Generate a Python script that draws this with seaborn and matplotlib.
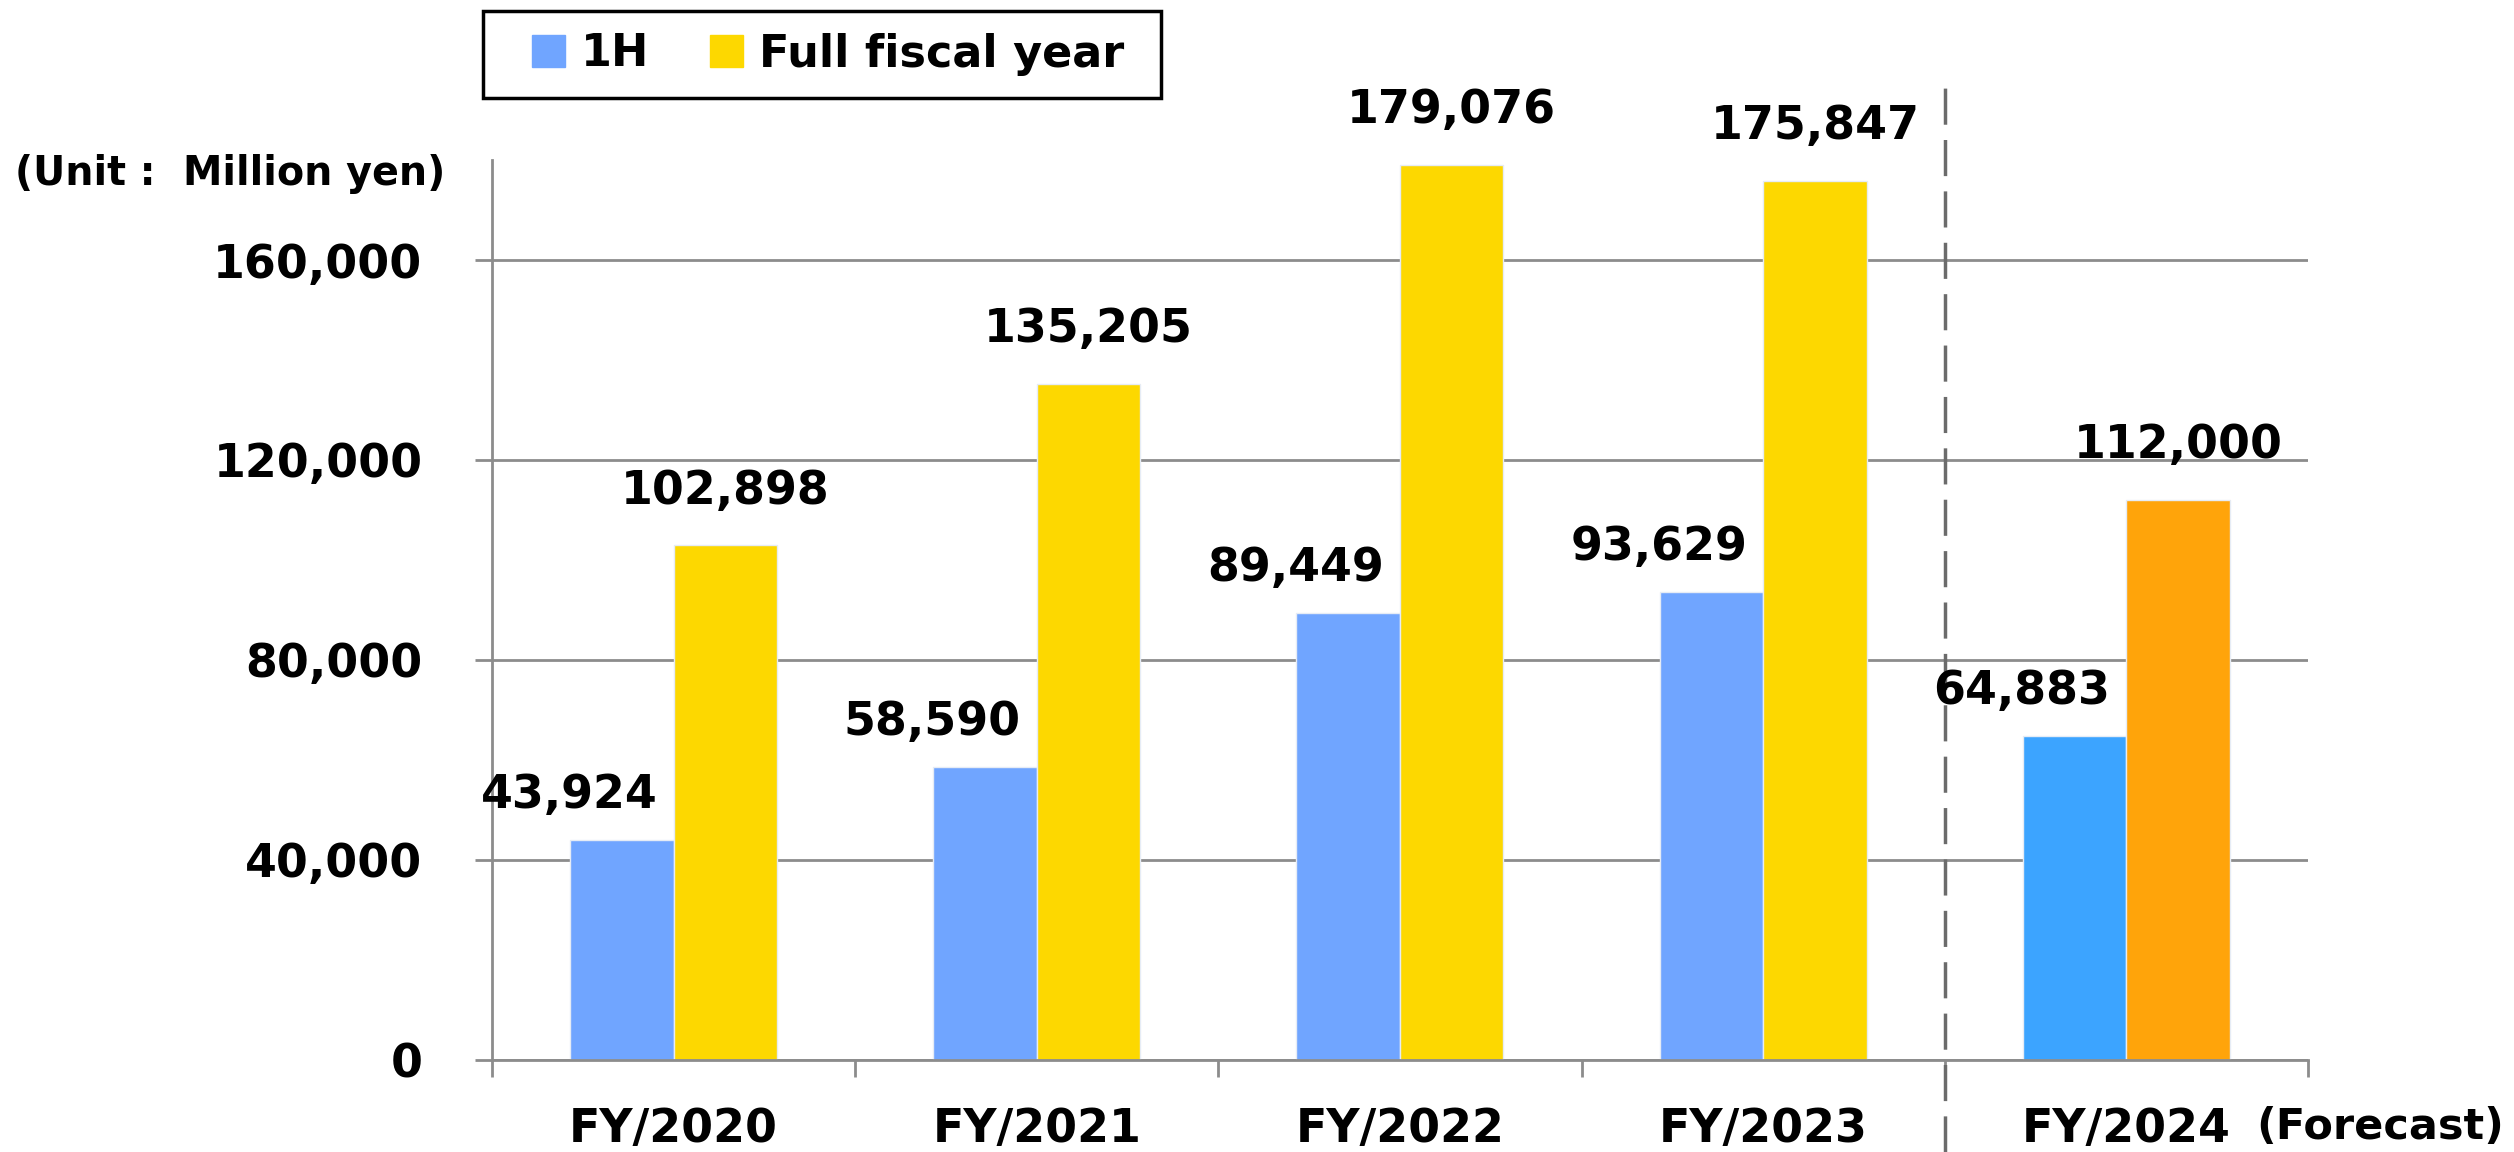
import numpy as np
import pandas as pd
import seaborn as sns
import matplotlib.pyplot as plt
import matplotlib.ticker as ticker
from matplotlib.patches import Rectangle

years = ["FY/2020", "FY/2021", "FY/2022", "FY/2023", "FY/2024"]
first_half = [43924, 58590, 89449, 93629, 64883]
full_year = [102898, 135205, 179076, 175847, 112000]
series = ["1H", "Full fiscal year"]
colors = ["#70A5FF", "#FDD800"]
forecast_colors = ["#3CA4FF", "#FFA40A"]
yticks = [0, 40000, 80000, 120000, 160000]

df = pd.DataFrame({
    "Year": years * 2,
    "Series": [series[0]] * len(years) + [series[1]] * len(years),
    "Value": first_half + full_year,
})

sns.set_theme(style="white")
plt.rcParams["font.family"] = ["DejaVu Sans"]
plt.rcParams["lines.scale_dashes"] = False
plt.rcParams["text.color"] = "black"

fig = plt.figure(figsize=(25.14, 11.52), dpi=100)
ax = fig.add_axes([0.1957, 0.0799, 0.7223, 0.7812])

g = sns.barplot(data=df, x="Year", y="Value", hue="Series", palette=colors,
                saturation=1, width=0.57, ax=ax, legend=False,
                edgecolor="#E6ECF5", linewidth=1)

# forecast group gets its own colours
for cont, c in zip(ax.containers, forecast_colors):
    cont.patches[-1].set_facecolor(c)

# value labels
for i, cont in enumerate(ax.containers):
    for p in cont.patches:
        v = p.get_height()
        dx = -38 if i == 0 else 0
        dy = 32 if i == 0 else 39
        ax.annotate(f"{v:,.0f}", (p.get_x() + p.get_width() / 2, v),
                    xytext=(dx, dy), textcoords="offset points",
                    ha="center", va="center", fontsize=33, fontweight="bold",
                    color="black")

ax.set_xlim(-0.5, 4.5)
ax.set_ylim(0, 180000)
ax.set_yticks(yticks)
ax.yaxis.set_major_formatter(ticker.FuncFormatter(lambda x, p: f"{x:,.0f}"))
ax.grid(axis="y", color="#8C8C8C", linewidth=2)
ax.set_axisbelow(True)
ax.set_xlabel("")
ax.set_ylabel("")

for s in ["top", "right"]:
    ax.spines[s].set_visible(False)
for s in ["left", "bottom"]:
    ax.spines[s].set_color("#8C8C8C")
    ax.spines[s].set_linewidth(2)

ax.tick_params(axis="y", which="major", length=12, width=2, color="#8C8C8C",
               pad=38, labelsize=33, left=True, labelcolor="black")
ax.tick_params(axis="x", which="major", length=0, pad=34, labelsize=33,
               labelcolor="black")
ax.set_xticks(np.arange(-0.5, 5, 1), minor=True)
ax.tick_params(axis="x", which="minor", length=12, width=2, color="#8C8C8C",
               bottom=True, direction="out")
for lab in ax.get_xticklabels() + ax.get_yticklabels():
    lab.set_fontweight("bold")

# forecast separator
ax.axvline(3.5, ymin=-0.102, ymax=1.094, color="#6B6B6B", linewidth=2.5,
           dashes=(26, 11), clip_on=False)

fig.text(0.8974, 0.0217, "(Forecast)", fontsize=31, fontweight="bold",
         va="center", ha="left")
fig.text(0.006, 0.849, "(Unit :  Million yen)", fontsize=28.5, fontweight="bold",
         va="center", ha="left")

# legend box
fig.patches.append(Rectangle((483 / 2514, 1 - 98 / 1152), 678 / 2514, 87 / 1152,
                             transform=fig.transFigure, facecolor="white",
                             edgecolor="black", linewidth=2.5, zorder=0))
handles = [plt.Rectangle((0, 0), 1, 1, color=c) for c in colors]
leg = fig.legend(handles, series, loc="center left",
                 bbox_to_anchor=(532 / 2514, 1 - 54 / 1152),
                 ncol=2, prop={"weight": "bold", "size": 32},
                 frameon=False, handlelength=0.75, handleheight=0.75,
                 handletextpad=0.36, columnspacing=1.35, borderpad=0,
                 borderaxespad=0)

fig.savefig("out.png", dpi=100)
